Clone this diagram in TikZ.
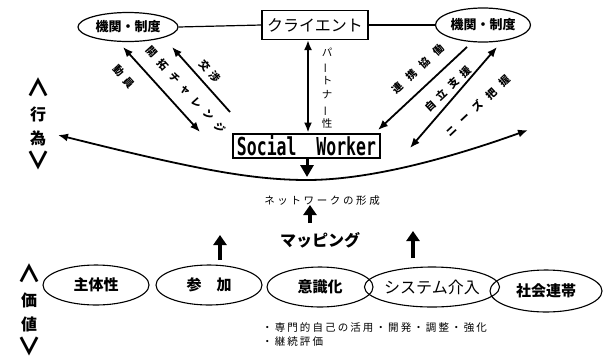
\documentclass[tikz,border=0pt]{standalone}
\usepackage{fontspec}
\usepackage{graphicx}
\setmainfont{Noto Sans CJK JP}
\newfontfamily\swfont{DejaVu Sans Mono}
\usetikzlibrary{arrows.meta,shapes.geometric}
\newcommand{\bigwedgech}{\raisebox{-1pt}{\scalebox{1.5}[1.5]{∧}}}
\newcommand{\bigveech}{\raisebox{0pt}{\scalebox{1.5}[1.5]{∨}}}
\tikzset{
  orgell/.style={ellipse, draw, line width=1.2pt, inner sep=0pt, font=\bfseries\fontsize{13}{13}\selectfont},
  valell/.style={ellipse, draw, line width=1.1pt, inner sep=0pt, minimum width=106pt, minimum height=40pt, font=\bfseries\fontsize{15}{15}\selectfont},
  conn/.style={line width=1.2pt},
  arr/.style={line width=1.8pt, -{Latex[length=10pt,width=8pt]}},
  dblarr/.style={line width=1.8pt, {Latex[length=10pt,width=8pt]}-{Latex[length=10pt,width=8pt]}},
  fatarr/.style={line width=4pt, -{Triangle[length=10pt,width=13pt]}},
  diaglbl/.style={inner sep=0pt, font=\bfseries\fontsize{10}{10}\selectfont},
  vlbl/.style={align=center, inner sep=0pt},
}
\begin{document}
\begin{tikzpicture}[x=1pt,y=-1pt]
\useasboundingbox (0,0) rectangle (609,362);

% top row
\node[orgell, minimum width=100pt, minimum height=29pt] (org1) at (128,27) {機関・制度};
\node[orgell, minimum width=95pt, minimum height=34pt] (org2) at (483,25) {機関・制度};
\node[draw, line width=1.2pt, minimum width=106pt, minimum height=29pt, inner sep=0pt, font=\fontsize{16}{16}\selectfont] (cl) at (315,25) {クライエント};
\draw[conn] (org1.east) -- (cl.west);
\draw[conn] (cl.east) -- (org2.west);

% social worker
\node[draw, line width=2pt, minimum width=147pt, minimum height=24pt, inner sep=0pt] (sw) at (306.5,145.5)
  {\scalebox{1}[1.5]{\swfont\bfseries\fontsize{16.5}{16.5}\selectfont Social\ \ Worker}};

% partnership
\coordinate (px) at (308,0);
\draw[dblarr] (cl.south -| px) -- (sw.north -| px);
\node[vlbl, font=\fontsize{10.5}{14.2}\selectfont] (pt) at (327,88)
  {パ\\\rotatebox[origin=c]{90}{ー}\\ト\\ナ\\\rotatebox[origin=c]{90}{ー}\\性};

% left diagonals
\coordinate (a1) at (123,47);
\coordinate (a2) at (200,132);
\coordinate (b1) at (230,112);
\coordinate (b2) at (172,47);
\draw[dblarr] (a1) -- (a2);
\draw[arr] (b1) -- (b2);
\node[diaglbl, rotate=-48, font=\bfseries\fontsize{10.5}{10}\selectfont\addfontfeature{LetterSpace=50}] (l1) at (124,77) {動員};
\node[diaglbl, rotate=-48, font=\bfseries\fontsize{10.5}{10}\selectfont\addfontfeature{LetterSpace=62}] (l2) at (186,90) {開拓チャレンジ};
\node[diaglbl, rotate=-48, font=\bfseries\fontsize{10.5}{10}\selectfont\addfontfeature{LetterSpace=45}] (l3) at (210,71) {交渉};

% right diagonals
\coordinate (c1) at (467,47);
\coordinate (c2) at (378,130);
\coordinate (d1) at (497,47);
\coordinate (d2) at (410,148);
\draw[arr] (c1) -- (c2);
\draw[dblarr] (d1) -- (d2);
\node[diaglbl, rotate=43, font=\bfseries\fontsize{10.5}{10}\selectfont\addfontfeature{LetterSpace=75}] (r1) at (418,69) {連携協働};
\node[diaglbl, rotate=43, font=\bfseries\fontsize{10.5}{10}\selectfont\addfontfeature{LetterSpace=55}] (r2) at (448,89) {自立支援};
\node[diaglbl, rotate=43, font=\bfseries\fontsize{10.5}{10}\selectfont\addfontfeature{LetterSpace=75}] (r3) at (478,106) {ニーズ把握};

% action curve
\coordinate (cL) at (58,135);
\coordinate (cB) at (307,180);
\coordinate (cR) at (528,130);
\draw[dblarr] (cL) .. controls (190,168) and (250,180) .. (cB) .. controls (370,180) and (450,158) .. (cR);

% down arrow from SW
\coordinate (swd) at (307,177);
\draw[line width=3pt, -{Triangle[length=12pt,width=13pt]}] (sw.south -| swd) -- (swd);

% network / mapping
\node[font=\fontsize{10.5}{10.5}\selectfont\addfontfeature{LetterSpace=25}] (net) at (322,201) {ネットワークの形成};
\coordinate (u1a) at (310,223);
\coordinate (u1b) at (310,205);
\draw[fatarr] (u1a) -- (u1b);
\node[font=\bfseries\fontsize{16}{16}\selectfont] (map) at (320,240) {マッピング};
\coordinate (u2a) at (220,260);
\coordinate (u2b) at (220,235);
\draw[fatarr] (u2a) -- (u2b);
\coordinate (u3a) at (413,258);
\coordinate (u3b) at (413,231);
\draw[fatarr] (u3a) -- (u3b);

% value ellipses
\node[valell] (v1) at (96,285) {主体性};
\node[valell] (v2) at (209,285) {参　加};
\node[valell] (v3) at (320,287) {意識化};
\node[valell, font=\fontsize{16}{16}\selectfont] (v4) at (432,287) {システム介入};
\node[valell, minimum width=112pt, minimum height=42pt] (v5) at (546,291) {社会連帯};

% notes
\node[anchor=west, align=left, inner sep=0pt, font=\fontsize{10.5}{14}\selectfont\addfontfeature{LetterSpace=20}] (note) at (262,334)
  {・専門的自己の活用・開発・調整・強化\\・継続評価};

% side labels
\node[vlbl, font=\bfseries\fontsize{16}{24.5}\selectfont] (act) at (38,124) {\bigwedgech\\行\\為\\\bigveech};
\node[vlbl, font=\bfseries\fontsize{16}{24.5}\selectfont] (val) at (29,310) {\bigwedgech\\価\\値\\\bigveech};
\end{tikzpicture}
\end{document}
